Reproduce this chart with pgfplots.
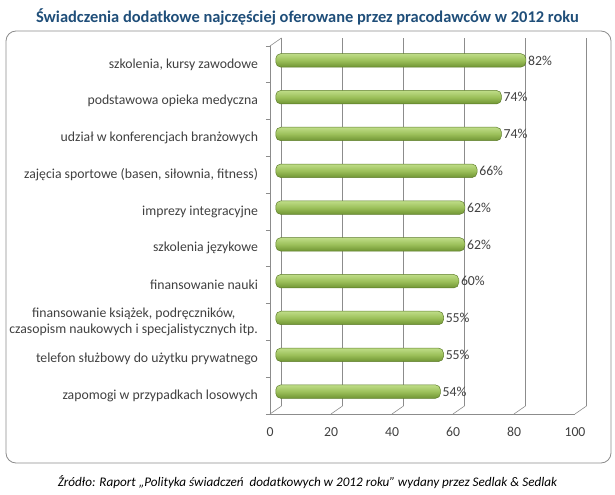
\documentclass[border=0pt]{standalone}
\usepackage{pgfplots}
\pgfplotsset{compat=1.18}
\usepackage{pgfplotstable}
\usepackage{fontspec}
\setmainfont{Carlito}
\definecolor{titleblue}{HTML}{1F4E79}
\definecolor{txt}{HTML}{404040}
\definecolor{gridgray}{HTML}{8C8C8C}
\definecolor{barlight}{HTML}{BFDD88}
\definecolor{barmid}{HTML}{9CC05A}
\definecolor{bardark}{HTML}{6F9433}
\definecolor{baredge}{HTML}{5E7D2A}

\pgfplotstableread{
y v
0 54
1 55
2 55
3 60
4 62
5 62
6 66
7 74
8 74
9 82
}\data

\begin{document}
\begin{tikzpicture}
\path[use as bounding box] (0bp,0bp) rectangle (615bp,495bp);
\draw[gridgray, rounded corners=10bp, line width=0.8bp] (6bp,32bp) rectangle (611bp,464bp);
\node[font=\fontsize{16.5}{19}\selectfont\bfseries, text=titleblue] at (307.5bp,478bp) {Świadczenia dodatkowe najczęściej oferowane przez pracodawców w 2012 roku};
\node[font=\fontsize{13.2}{15}\selectfont\itshape, text=black] at (307.5bp,13bp) {Źródło: Raport „Polityka świadczeń\ \ dodatkowych w 2012 roku” wydany przez Sedlak \& Sedlak};

% back wall
\begin{axis}[at={(281.5bp,89bp)}, anchor=south west, scale only axis,
  width=305bp, height=368bp, xmin=0, xmax=100, ymin=-0.5, ymax=9.5,
  xtick={0,20,40,60,80,100}, ytick=\empty, xticklabels={}, major tick length=0,
  xmajorgrids, grid style={gridgray, line width=0.6bp}, axis line style={draw=none}]
\addplot[draw=none] coordinates {(0,0)};
\end{axis}

% front frame with labels
\begin{axis}[at={(270bp,81bp)}, anchor=south west, scale only axis,
  width=305bp, height=368bp, xmin=0, xmax=100, ymin=-0.5, ymax=9.5, clip=false,
  xtick={0,20,40,60,80,100}, ytick={0,...,9},
  yticklabels={{zapomogi w przypadkach losowych},
    {telefon służbowy do użytku prywatnego},
    {finansowanie książek, podręczników,\\czasopism naukowych i specjalistycznych itp.},
    {finansowanie nauki},
    {szkolenia językowe},
    {imprezy integracyjne},
    {zajęcia sportowe (basen, siłownia, fitness)},
    {udział w konferencjach branżowych},
    {podstawowa opieka medyczna},
    {szkolenia, kursy zawodowe}},
  yticklabel style={align=center, font=\fontsize{13.8}{15.5}\selectfont, text=txt, xshift=-8.5bp},
  xticklabel style={font=\fontsize{13.8}{15.5}\selectfont, text=txt, yshift=-10bp},
  /pgf/number format/assume math mode=true,
  minor ytick={-0.5,0.5,...,9.5},
  major tick length=0, minor tick length=4bp, tick align=outside,
  minor tick style={gridgray, line width=0.6bp},
  axis x line*=bottom, axis y line*=left,
  axis line style={gridgray, line width=0.6bp, -}]
\addplot[draw=none] coordinates {(0,0)};
\pgfplotsinvokeforeach{0,20,40,60,80,100}{\draw[gridgray, line width=0.6bp] (axis cs:#1,-0.5) -- ++(11.5bp,8bp);}
\draw[gridgray, line width=0.6bp] (axis cs:0,9.5) -- ++(11.5bp,8bp);
\end{axis}

% bars
\begin{axis}[at={(275.75bp,85bp)}, anchor=south west, scale only axis,
  width=305bp, height=368bp, xmin=0, xmax=100, ymin=-0.5, ymax=9.5,
  hide axis, clip=false,
  /pgf/number format/assume math mode=true]
\pgfplotsinvokeforeach{0,1,2,3,4,5,6,7,8,9}{
\addplot[xbar, bar shift=0pt, bar width=13.5bp, draw=baredge, line width=0.5bp,
  top color=barlight, bottom color=bardark, middle color=barmid,
  rounded corners=5bp,
  nodes near coords={\pgfmathprintnumber{\pgfplotspointmeta}\%},
  every node near coord/.append style={font=\fontsize{13.8}{15.5}\selectfont, text=txt, anchor=west, inner sep=2bp}]
  table[x=v, y=y, restrict expr to domain={\coordindex}{#1:#1}] {\data};
}
\end{axis}
\end{tikzpicture}
\end{document}
